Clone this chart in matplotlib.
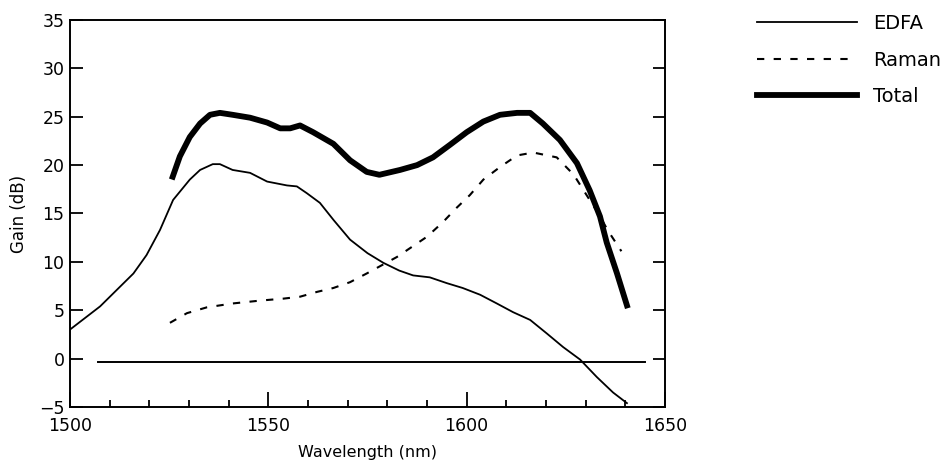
import numpy as np
import matplotlib
matplotlib.use("Agg")
import matplotlib.pyplot as plt

plt.rcParams['font.family'] = ['DejaVu Sans']

# EDFA gain (thin solid)
edfa_wl = [1500, 1507.6, 1511.8, 1516, 1519.3, 1522.7, 1526, 1530.2, 1532.8, 1536,
           1537.8, 1541, 1545.4, 1549.7, 1554.7, 1557.2, 1559.7, 1563, 1566.5, 1570.6,
           1575, 1579, 1583, 1586.5, 1590.7, 1595, 1599, 1603.4, 1607.6, 1611.7,
           1616, 1620.2, 1624.3, 1628.6, 1632.8, 1636.9, 1640.4]
edfa_gain = [3.0, 5.4, 7.1, 8.8, 10.7, 13.3, 16.4, 18.5, 19.5, 20.1,
             20.1, 19.5, 19.2, 18.3, 17.9, 17.8, 17.1, 16.1, 14.3, 12.3,
             10.9, 9.9, 9.1, 8.6, 8.4, 7.8, 7.3, 6.6, 5.7, 4.8,
             4.0, 2.6, 1.2, -0.1, -1.9, -3.5, -4.6]

# Raman gain (dashed)
raman_wl = [1525.2, 1529.5, 1534.5, 1541, 1548, 1553.8, 1558, 1562.3, 1566.4, 1570.6,
            1574.8, 1582.4, 1590, 1594, 1597.5, 1600.8, 1604.2, 1608.4, 1612.7, 1616.8,
            1622.7, 1627, 1631, 1633.5, 1635.5, 1639]
raman_gain = [3.7, 4.7, 5.3, 5.7, 6.0, 6.2, 6.4, 6.9, 7.3, 7.9,
              8.8, 10.5, 12.6, 14.1, 15.6, 16.9, 18.5, 19.8, 21.0, 21.3,
              20.8, 19.0, 16.4, 14.8, 13.3, 11.1]

# Total gain (thick solid)
total_wl = [1525.9, 1527.7, 1530.2, 1532.8, 1535.3, 1537.8, 1541, 1545.4, 1549.7, 1553,
            1555.5, 1558, 1561.3, 1566.4, 1570.6, 1574.8, 1578, 1583.2, 1587.5, 1591.5,
            1595.8, 1600, 1604.2, 1608.4, 1612.7, 1616, 1619.2, 1623.5, 1627.8, 1631,
            1633.6, 1635.3, 1637.9, 1640.4]
total_gain = [18.8, 20.9, 22.9, 24.3, 25.2, 25.4, 25.2, 24.9, 24.4, 23.8,
              23.8, 24.1, 23.4, 22.2, 20.5, 19.3, 19.0, 19.5, 20.0, 20.8,
              22.1, 23.4, 24.5, 25.2, 25.4, 25.4, 24.3, 22.6, 20.2, 17.4,
              14.7, 12.0, 8.8, 5.5]

# zero-gain reference line
base_wl = [1507, 1645]
base_gain = [-0.3, -0.3]

fig = plt.figure(figsize=(9.48, 4.69), dpi=100)
ax = fig.add_axes([0.0738, 0.1322, 0.6277, 0.8252])

l1, = ax.plot(edfa_wl, edfa_gain, color='black', lw=1.3, label='EDFA')
l2, = ax.plot(raman_wl, raman_gain, color='black', lw=1.5, ls=(0, (3.5, 4.5)), label='Raman')
l3, = ax.plot(total_wl, total_gain, color='black', lw=4.2, label='Total')
ax.plot(base_wl, base_gain, color='black', lw=1.4)

ax.set_xlim(1500, 1650)
ax.set_ylim(-5, 35)
ax.set_xticks([1500, 1550, 1600, 1650])
ax.set_xticks(np.arange(1500, 1651, 10), minor=True)
ax.set_yticks(np.arange(-5, 36, 5))

ax.tick_params(axis='x', which='major', direction='in', length=11, width=1.3,
               labelsize=12.5, pad=7.5, top=False)
ax.tick_params(axis='x', which='minor', direction='in', length=5, width=1.3, top=False)
ax.tick_params(axis='y', direction='in', length=9, width=1.3, labelsize=12.5, pad=4,
               left=True, right=True)
for s in ax.spines.values():
    s.set_linewidth(1.4)

ax.set_xlabel('Wavelength (nm)', fontsize=11.5, labelpad=7)
ax.set_ylabel('Gain (dB)', fontsize=12, labelpad=8)

fig.legend(handles=[l1, l2, l3], loc='upper left', bbox_to_anchor=(0.7985, 0.970),
           frameon=False, fontsize=14, handlelength=5.15, handletextpad=0.82,
           labelspacing=0.9, borderpad=0, borderaxespad=0)

fig.savefig('out.png', dpi=100)
